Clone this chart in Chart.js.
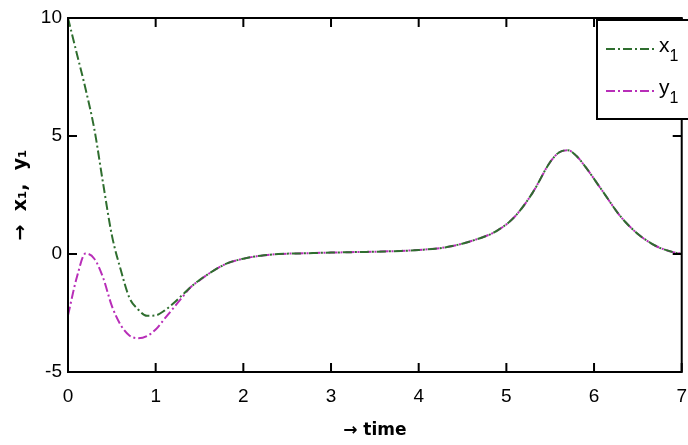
<!DOCTYPE html>
<html><head><meta charset="utf-8">
<script src="https://cdn.jsdelivr.net/npm/chart.js@4/dist/chart.umd.min.js"></script>
<style>
html,body{margin:0;padding:0;overflow:hidden;background:#fff;width:688px;height:445px}
#wrap{position:absolute;left:0;top:0;width:700px;height:445px}
</style>
</head><body><div id="wrap"><canvas id="c" width="700" height="445"></canvas></div>
<script>
const timeValues = [0, 0.1, 0.2, 0.3, 0.4, 0.5, 0.6, 0.7, 0.8, 0.9, 1.0, 1.1, 1.2, 1.3, 1.4, 1.5, 1.6, 1.8, 2.0, 2.2, 2.4, 2.7, 3.0, 3.4, 3.8, 4.0, 4.3, 4.6, 4.9, 5.1, 5.3, 5.5, 5.6, 5.7, 5.8, 5.9, 6.1, 6.3, 6.5, 6.7, 6.9, 7.0];
const x1Values   = [10, 8.5, 7.0, 5.3, 3.0, 0.8, -0.65, -1.85, -2.35, -2.62, -2.6, -2.4, -2.1, -1.75, -1.4, -1.1, -0.85, -0.42, -0.2, -0.07, 0.0, 0.03, 0.06, 0.09, 0.13, 0.17, 0.28, 0.55, 1.0, 1.6, 2.6, 3.9, 4.3, 4.4, 4.15, 3.7, 2.65, 1.6, 0.85, 0.35, 0.08, 0.02];
const y1Values   = [-2.6, -1.0, 0.02, -0.2, -1.0, -2.2, -3.0, -3.45, -3.57, -3.48, -3.2, -2.75, -2.3, -1.85, -1.4, -1.12, -0.85, -0.42, -0.2, -0.07, 0.0, 0.03, 0.06, 0.09, 0.13, 0.17, 0.28, 0.55, 1.0, 1.6, 2.6, 3.9, 4.3, 4.4, 4.15, 3.7, 2.65, 1.6, 0.85, 0.35, 0.08, 0.02];
const xTickValues = [0, 1, 2, 3, 4, 5, 6, 7];
const yTickValues = [-5, 0, 5, 10];
const seriesNames = ['x', 'y'];
const seriesSubscripts = ['1', '1'];
const xAxisTitle = '→ time';
const yAxisTitle = '→  x₁,  y₁';

const tickFont = {family: "'Liberation Sans Narrow', 'Liberation Sans', Arial, sans-serif", size: 19};
const titleFamily = "'DejaVu Sans', 'Liberation Sans', sans-serif";
const dash = [9, 3, 2, 3];

const framePlugin = {
  id: 'frame',
  afterDatasetsDraw(chart) {
    const {ctx, chartArea: a, scales: {x, y}} = chart;
    ctx.save();
    ctx.strokeStyle = '#000';
    ctx.lineWidth = 2;
    ctx.strokeRect(a.left, a.top, a.right - a.left, a.bottom - a.top);
    ctx.beginPath();
    const L = 9;
    x.ticks.forEach(t => {
      const px = x.getPixelForValue(t.value);
      ctx.moveTo(px, a.bottom); ctx.lineTo(px, a.bottom - L);
      ctx.moveTo(px, a.top); ctx.lineTo(px, a.top + L);
    });
    y.ticks.forEach(t => {
      const py = y.getPixelForValue(t.value);
      ctx.moveTo(a.left, py); ctx.lineTo(a.left + L, py);
      ctx.moveTo(a.right, py); ctx.lineTo(a.right - L, py);
    });
    ctx.stroke();
    ctx.restore();
  }
};

const legendPlugin = {
  id: 'boxLegend',
  afterDraw(chart) {
    const {ctx} = chart;
    const bx = 597, by = 20, bw = 120, bh = 99;
    ctx.save();
    ctx.fillStyle = '#fff';
    ctx.fillRect(bx, by, bw, bh);
    ctx.strokeStyle = '#000';
    ctx.lineWidth = 2;
    ctx.strokeRect(bx, by, bw, bh);
    const rows = [49, 91];
    chart.data.datasets.forEach((ds, i) => {
      const yy = rows[i];
      ctx.strokeStyle = ds.borderColor;
      ctx.lineWidth = ds.borderWidth;
      ctx.setLineDash(ds.borderDash);
      ctx.beginPath();
      ctx.moveTo(606, yy);
      ctx.lineTo(655, yy);
      ctx.stroke();
      ctx.setLineDash([]);
      ctx.fillStyle = '#000';
      ctx.textBaseline = 'middle';
      ctx.textAlign = 'left';
      ctx.font = "21px 'Liberation Sans Narrow', 'Liberation Sans', Arial, sans-serif";
      ctx.fillText(seriesNames[i], 659, yy - 3);
      const w = ctx.measureText(seriesNames[i]).width;
      ctx.font = "16px 'Liberation Sans Narrow', 'Liberation Sans', Arial, sans-serif";
      ctx.fillText(seriesSubscripts[i], 659 + w, yy + 8);
    });
    ctx.restore();
  }
};

const toPts = vals => timeValues.map((t, i) => ({x: t, y: vals[i]}));

new Chart(document.getElementById('c'), {
  type: 'line',
  data: {
    datasets: [
      {label: 'x₁', data: toPts(x1Values), borderColor: '#2f6e2f', borderWidth: 2, borderDash: dash, pointRadius: 0, cubicInterpolationMode: 'monotone', fill: false},
      {label: 'y₁', data: toPts(y1Values), borderColor: '#b82eb8', borderWidth: 2, borderDash: dash, pointRadius: 0, cubicInterpolationMode: 'monotone', fill: false}
    ]
  },
  options: {
    responsive: false,
    animation: false,
    devicePixelRatio: 1,
    layout: {padding: {top: 18, right: 11, left: 0, bottom: 0}},
    plugins: {legend: {display: false}, tooltip: {enabled: false}},
    scales: {
      x: {
        type: 'linear', min: 0, max: 7,
        afterBuildTicks: s => { s.ticks = xTickValues.map(v => ({value: v})); },
        afterFit: s => { s.height = 73; },
        grid: {display: false, drawTicks: false},
        border: {display: false},
        ticks: {color: '#000', font: tickFont, padding: 13, maxRotation: 0},
        title: {display: true, text: xAxisTitle, color: '#000', font: {family: titleFamily, size: 17, weight: 'bold'}, padding: {top: 0, bottom: 4}}
      },
      y: {
        type: 'linear', min: -5, max: 10,
        afterBuildTicks: s => { s.ticks = yTickValues.map(v => ({value: v})); },
        afterFit: s => { s.width = 68; },
        grid: {display: false, drawTicks: false},
        border: {display: false},
        ticks: {color: '#000', font: tickFont, padding: 6},
        title: {display: true, text: yAxisTitle, color: '#000', font: {family: titleFamily, size: 19, weight: 'bold'}, padding: {top: 10, bottom: 0}}
      }
    }
  },
  plugins: [framePlugin, legendPlugin]
});
</script>
</body></html>
